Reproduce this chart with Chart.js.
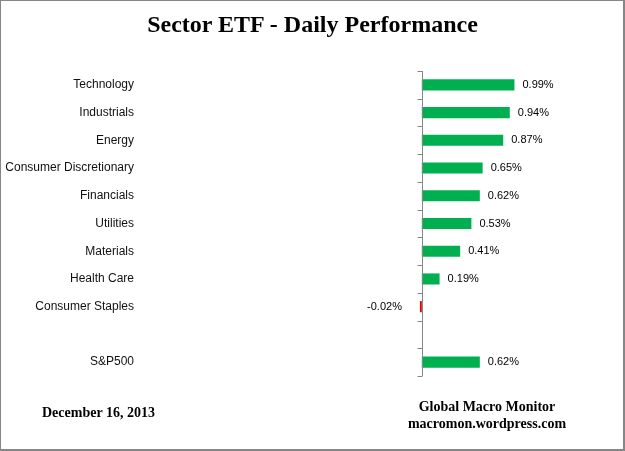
<!DOCTYPE html>
<html>
<head>
<meta charset="utf-8">
<script src="https://cdn.jsdelivr.net/npm/chart.js@4"></script>
<style>
  html, body { margin: 0; padding: 0; background: #fff; }
  #wrap { position: relative; width: 625px; height: 451px; }
  #frame { position: absolute; left: 0; top: 0; width: 625px; height: 451px;
           box-sizing: border-box; border: 1px solid #868686; border-right-width: 2px; border-bottom-width: 2px; pointer-events: none; }
  .serif { position: absolute; font-family: "Liberation Serif", "Times New Roman", serif; font-weight: bold; color: #000; white-space: nowrap; }
  #title { left: 0; width: 625px; top: 11px; text-align: center; font-size: 24px; }
  #date { left: 42px; top: 405px; font-size: 14px; }
  #credit { left: 387px; width: 200px; top: 398px; text-align: center; font-size: 14px; line-height: 17px; }
</style>
</head>
<body>
<div id="wrap">
  <canvas id="sectorChart" width="625" height="451"></canvas>
  <div id="title" class="serif">Sector ETF - Daily Performance</div>
  <div id="date" class="serif">December 16, 2013</div>
  <div id="credit" class="serif">Global Macro Monitor<br>macromon.wordpress.com</div>
  <div id="frame"></div>
</div>
<script>
// Daily sector performance (%)
const sectors = ["Technology", "Industrials", "Energy", "Consumer Discretionary", "Financials",
  "Utilities", "Materials", "Health Care", "Consumer Staples", "", "S&P500"];
const dailyChange = [0.99, 0.94, 0.87, 0.65, 0.62, 0.53, 0.41, 0.19, -0.02, null, 0.62];

const labelFont = '11px "Liberation Sans", Arial, sans-serif';

// zero axis with tick marks at category boundaries
const zeroAxis = {
  id: "zeroAxis",
  afterDatasetsDraw(chart) {
    const { ctx, scales: { x, y } } = chart;
    const x0 = Math.round(x.getPixelForValue(0)) + 0.5;
    const step = (y.bottom - y.top) / sectors.length;
    ctx.save();
    ctx.strokeStyle = "#868686";
    ctx.lineWidth = 1;
    ctx.beginPath();
    ctx.moveTo(x0, y.top);
    ctx.lineTo(x0, y.bottom);
    for (let i = 0; i <= sectors.length; i++) {
      const ty = Math.round(y.top + i * step) + 0.5;
      ctx.moveTo(x0 - 5, ty);
      ctx.lineTo(x0, ty);
    }
    ctx.stroke();
    ctx.restore();
  },
};

// value labels next to each bar
const valueLabels = {
  id: "valueLabels",
  afterDatasetsDraw(chart) {
    const { ctx } = chart;
    const meta = chart.getDatasetMeta(0);
    ctx.save();
    ctx.font = labelFont;
    ctx.fillStyle = "#000";
    ctx.textBaseline = "middle";
    meta.data.forEach((bar, i) => {
      const v = dailyChange[i];
      if (v === null) return;
      const txt = v.toFixed(2) + "%";
      if (v >= 0) {
        ctx.textAlign = "left";
        ctx.fillText(txt, bar.x + 8, bar.y);
      } else {
        ctx.textAlign = "right";
        ctx.fillText(txt, bar.x - 18, bar.y);
      }
    });
    ctx.restore();
  },
};

new Chart(document.getElementById("sectorChart"), {
  type: "bar",
  data: {
    labels: sectors,
    datasets: [
      {
        data: dailyChange,
        backgroundColor: dailyChange.map((v) => (v < 0 ? "#e00000" : "#00b050")),
        barPercentage: 0.4,
        categoryPercentage: 1,
      },
    ],
  },
  options: {
    indexAxis: "y",
    responsive: false,
    animation: false,
    events: [],
    layout: { padding: { left: 4, right: 16, top: 71, bottom: 75 } },
    scales: {
      x: { display: false, min: -3, max: 2 },
      y: {
        grid: { display: false, drawTicks: false },
        border: { display: false },
        ticks: { color: "#111", font: { family: '"Liberation Sans", Arial, sans-serif', size: 12 }, padding: 7 },
        afterFit(scale) { scale.width = 137; },
      },
    },
    plugins: {
      legend: { display: false },
      tooltip: { enabled: false },
    },
  },
  plugins: [zeroAxis, valueLabels],
});
</script>
</body>
</html>
